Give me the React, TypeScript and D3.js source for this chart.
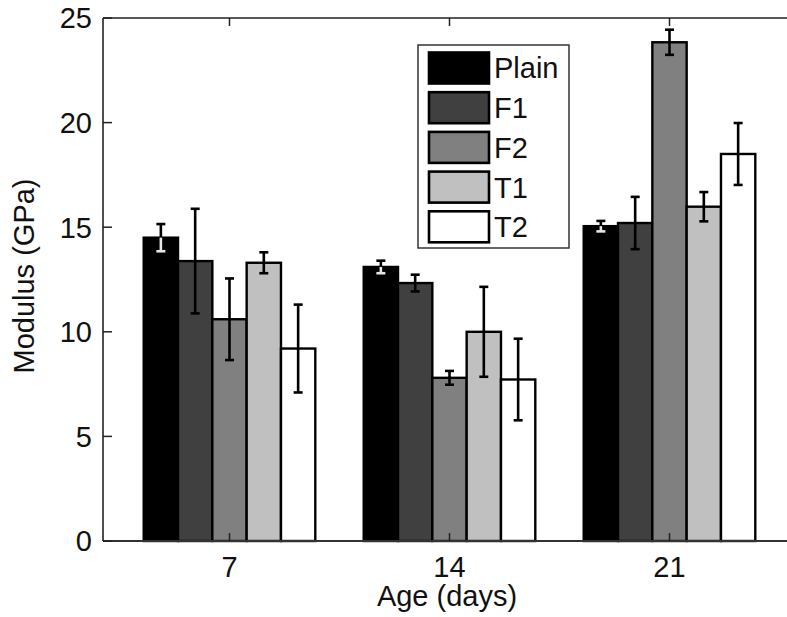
import React from "react";
import * as d3 from "d3";

const categories = ["7", "14", "21"];
const seriesNames = ["Plain", "F1", "F2", "T1", "T2"];
const seriesColors = ["#000000", "#404040", "#808080", "#c0c0c0", "#ffffff"];
const plainValues = [14.5, 13.1, 15.05];
const f1Values = [13.38, 12.33, 15.2];
const f2Values = [10.6, 7.8, 23.84];
const t1Values = [13.3, 10.0, 15.98];
const t2Values = [9.2, 7.72, 18.5];
const plainErr = [0.65, 0.3, 0.25];
const f1Err = [2.5, 0.4, 1.25];
const f2Err = [1.95, 0.33, 0.6];
const t1Err = [0.5, 2.15, 0.7];
const t2Err = [2.1, 1.95, 1.48];
const yTicks = [0, 5, 10, 15, 20, 25];

const values = [plainValues, f1Values, f2Values, t1Values, t2Values];
const errors = [plainErr, f1Err, f2Err, t1Err, t2Err];

const W = 787;
const H = 617;
const left = 103;
const right = 796;
const top = 18;
const bottom = 541;
const font = "'Liberation Sans', Arial, Helvetica, sans-serif";
const fs = 29;

export default function App() {
  const x = d3.scaleLinear().domain([0.425, 3.575]).range([left, right]);
  const y = d3.scaleLinear().domain([0, 25]).range([bottom, top]);
  const groupW = (x(2) - x(1)) * 0.78;
  const inner = d3
    .scaleBand<string>()
    .domain(seriesNames)
    .range([-groupW / 2, groupW / 2])
    .padding(0);
  const bw = inner.bandwidth();
  const capHalf = 4.5;

  const bars: React.ReactNode[] = [];
  const errs: React.ReactNode[] = [];
  categories.forEach((c, ci) => {
    const cx = x(ci + 1);
    seriesNames.forEach((s, si) => {
      const v = values[si][ci];
      const e = errors[si][ci];
      const bx = cx + (inner(s) as number);
      bars.push(
        <rect
          key={`b-${ci}-${si}`}
          x={bx}
          y={y(v)}
          width={bw}
          height={y(0) - y(v)}
          fill={seriesColors[si]}
          stroke="#000"
          strokeWidth={2.4}
        />
      );
      const ex = bx + bw / 2;
      const lowColor = si === 0 ? "#e6e6e6" : "#000";
      errs.push(
        <g key={`e-${ci}-${si}`} strokeWidth={2.6} fill="none">
          <line x1={ex} x2={ex} y1={y(v + e)} y2={y(v)} stroke="#000" />
          <line x1={ex - capHalf} x2={ex + capHalf} y1={y(v + e)} y2={y(v + e)} stroke="#000" />
          <line x1={ex} x2={ex} y1={y(v)} y2={y(v - e)} stroke={lowColor} />
          <line x1={ex - capHalf} x2={ex + capHalf} y1={y(v - e)} y2={y(v - e)} stroke={lowColor} />
        </g>
      );
    });
  });

  const legX = 418;
  const legY = 45;
  const legW = 151;
  const legH = 203;
  const rowStep = 39.7;

  return (
    <svg
      width={W}
      height={H}
      style={{ display: "block", background: "#fff", position: "absolute", left: 0, top: 0 }}
    >
      <rect x={0} y={0} width={W} height={H} fill="#fff" />
      {bars}
      {errs}
      {/* axes box */}
      <line x1={left} x2={right} y1={top} y2={top} stroke="#222" strokeWidth={1.6} />
      <line x1={left} x2={right} y1={bottom} y2={bottom} stroke="#333" strokeWidth={2} />
      <line x1={left} x2={left} y1={top} y2={bottom} stroke="#222" strokeWidth={1.6} />
      <line x1={right} x2={right} y1={top} y2={bottom} stroke="#222" strokeWidth={1.6} />
      {yTicks.map((t) => (
        <g key={`yt-${t}`}>
          <line x1={left} x2={left + 9} y1={y(t)} y2={y(t)} stroke="#222" strokeWidth={1.5} />
          <line x1={right} x2={right - 9} y1={y(t)} y2={y(t)} stroke="#222" strokeWidth={1.5} />
          <text
            x={left - 11}
            y={y(t)}
            dy="0.36em"
            textAnchor="end"
            fontFamily={font}
            fontSize={fs}
            fill="#111"
          >
            {t}
          </text>
        </g>
      ))}
      {categories.map((c, ci) => (
        <g key={`xt-${c}`}>
          <line x1={x(ci + 1)} x2={x(ci + 1)} y1={bottom} y2={bottom - 8} stroke="#222" strokeWidth={1.5} />
          <line x1={x(ci + 1)} x2={x(ci + 1)} y1={top} y2={top + 8} stroke="#222" strokeWidth={1.5} />
          <text
            x={x(ci + 1)}
            y={577}
            textAnchor="middle"
            fontFamily={font}
            fontSize={fs}
            fill="#111"
          >
            {c}
          </text>
        </g>
      ))}
      <text x={447} y={606} textAnchor="middle" fontFamily={font} fontSize={fs} fill="#111">
        Age (days)
      </text>
      <text
        transform={`translate(34, 276) rotate(-90)`}
        textAnchor="middle"
        fontFamily={font}
        fontSize={fs}
        fill="#111"
      >
        Modulus (GPa)
      </text>
      {/* legend */}
      <rect x={legX} y={legY} width={legW} height={legH} fill="#fff" stroke="#333" strokeWidth={1.5} />
      {seriesNames.map((s, si) => (
        <g key={`lg-${s}`}>
          <rect
            x={429}
            y={legY + 7.5 + si * rowStep}
            width={60}
            height={31}
            fill={seriesColors[si]}
            stroke="#000"
            strokeWidth={2.6}
          />
          <text
            x={494}
            y={legY + 7.5 + si * rowStep + 15.5}
            dy="0.36em"
            fontFamily={font}
            fontSize={fs}
            fill="#111"
          >
            {s}
          </text>
        </g>
      ))}
    </svg>
  );
}
